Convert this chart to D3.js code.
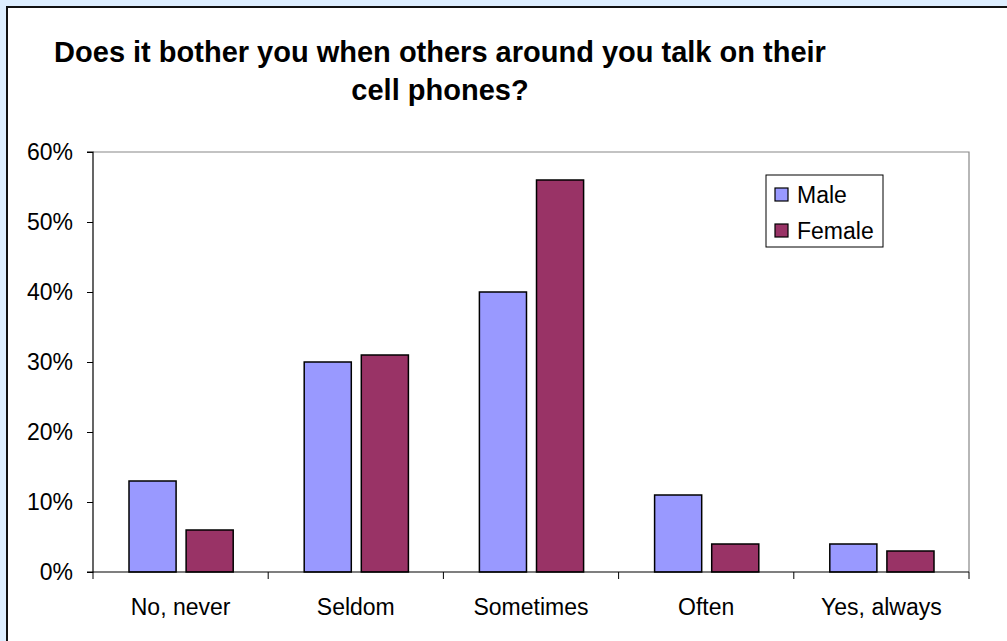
<!DOCTYPE html>
<html><head><meta charset="utf-8">
<script src="https://cdn.jsdelivr.net/npm/d3@7/dist/d3.min.js"></script>
<style>
html,body{margin:0;padding:0;background:#ddeeff;}
svg{display:block;font-family:"Liberation Sans",Arial,sans-serif;}
</style></head>
<body>
<script>
const categories = ["No, never", "Seldom", "Sometimes", "Often", "Yes, always"];
const seriesNames = ["Male", "Female"];
const maleValues = [0.13, 0.30, 0.40, 0.11, 0.04];
const femaleValues = [0.06, 0.31, 0.56, 0.04, 0.03];
const yTicks = [0, 0.1, 0.2, 0.3, 0.4, 0.5, 0.6];
const colors = ["#9999FF", "#993366"];
const titleLines = ["Does it bother you when others around you talk on their", "cell phones?"];

const W = 1007, H = 641;
const svg = d3.select("body").append("svg").attr("width", W).attr("height", H);

// background frame
svg.append("rect").attr("x", 0).attr("y", 0).attr("width", W).attr("height", H).attr("fill", "#ddeeff");
svg.append("rect").attr("x", 7).attr("y", 7).attr("width", W + 10).attr("height", H + 10)
  .attr("fill", "#ffffff").attr("stroke", "#111").attr("stroke-width", 2);

const m = {left: 93, right: 969, top: 152, bottom: 572};
const x = d3.scaleBand().domain(categories).range([m.left, m.right]).paddingInner(0).paddingOuter(0);
const y = d3.scaleLinear().domain([0, 0.6]).range([m.bottom, m.top]);
const inner = d3.scaleBand().domain(seriesNames).range([36, x.bandwidth() - 35]).paddingInner(10 / 57);

// plot area border (top/right gray)
svg.append("path").attr("d", `M${m.left},${m.top}H${m.right}V${m.bottom}`)
  .attr("fill", "none").attr("stroke", "#888").attr("stroke-width", 1.2);

// title
svg.append("g").selectAll("text").data(titleLines).join("text")
  .attr("x", 440).attr("y", (d, i) => 62 + i * 38)
  .attr("text-anchor", "middle").attr("font-weight", "bold").attr("font-size", 29)
  .attr("fill", "#000").text(d => d);

// bars
const data = categories.map((c, i) => ({c, vals: [maleValues[i], femaleValues[i]]}));
const g = svg.append("g");
data.forEach(d => {
  d.vals.forEach((v, j) => {
    g.append("rect")
      .attr("x", x(d.c) + inner(seriesNames[j]))
      .attr("y", y(v))
      .attr("width", inner.bandwidth())
      .attr("height", y(0) - y(v))
      .attr("fill", colors[j]).attr("stroke", "#000").attr("stroke-width", 1.5);
  });
});

// y axis
const yAxis = d3.axisLeft(y).tickValues(yTicks).tickFormat(d3.format(".0%")).tickSize(6).tickPadding(14);
const ya = svg.append("g").attr("transform", `translate(${m.left},0)`).call(yAxis);
ya.select(".domain").attr("stroke", "#000").attr("stroke-width", 1.2).attr("d", `M-6,${m.top}H0V${m.bottom}H-6`);
ya.selectAll(".tick line").attr("stroke", "#000");
ya.selectAll("text").attr("font-size", 23).attr("fill", "#000").attr("font-family", "Liberation Sans, Arial, sans-serif");

// x axis
const xa = svg.append("g").attr("transform", `translate(0,${m.bottom})`);
xa.append("line").attr("x1", m.left).attr("x2", m.right).attr("stroke", "#000").attr("stroke-width", 1.2);
const bounds = categories.map(c => x(c)).concat([x(categories[categories.length - 1]) + x.bandwidth()]);
xa.selectAll(".bt").data(bounds).join("line").attr("class", "bt")
  .attr("x1", d => d).attr("x2", d => d).attr("y1", 0).attr("y2", 7)
  .attr("stroke", "#000").attr("stroke-width", 1);
xa.selectAll("text").data(categories).join("text")
  .attr("x", d => x(d) + x.bandwidth() / 2).attr("y", 43)
  .attr("text-anchor", "middle").attr("font-size", 23).attr("fill", "#000").text(d => d);

// legend
const lg = svg.append("g").attr("transform", "translate(766,175)");
lg.append("rect").attr("width", 117).attr("height", 72).attr("fill", "#fff").attr("stroke", "#000").attr("stroke-width", 1);
seriesNames.forEach((s, i) => {
  lg.append("rect").attr("x", 9).attr("y", 13 + i * 36).attr("width", 13).attr("height", 13)
    .attr("fill", colors[i]).attr("stroke", "#000").attr("stroke-width", 1.2);
  lg.append("text").attr("x", 31).attr("y", 28 + i * 36).attr("font-size", 23).attr("fill", "#000").text(s);
});
</script>
</body></html>
